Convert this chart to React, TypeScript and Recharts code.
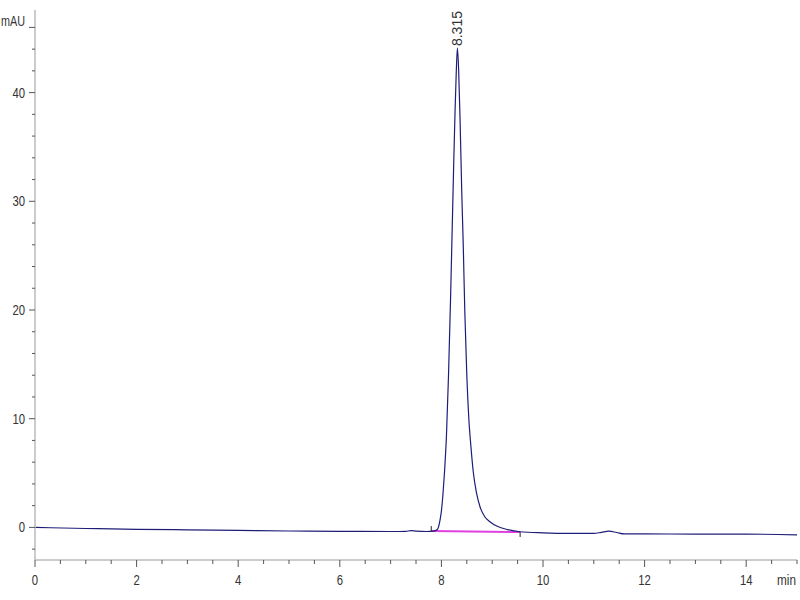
import React from 'react';
import { LineChart, Line, XAxis, YAxis, ReferenceLine, ReferenceDot } from 'recharts';

const times = [
  0, 1, 2, 3, 4, 5, 6, 7, 7.3, 7.4, 7.5, 7.7, 7.85, 7.92, 7.97, 8.0, 8.03, 8.06, 8.1, 8.14,
  8.18, 8.21, 8.24, 8.27, 8.29, 8.315, 8.34, 8.37, 8.4, 8.43, 8.46, 8.5, 8.54, 8.58, 8.63,
  8.69, 8.76, 8.85, 8.96, 9.1, 9.3, 9.55, 10, 10.5, 11, 11.15, 11.3, 11.45, 11.6, 12, 13, 14, 15,
];
const signal = [
  0, -0.1, -0.18, -0.22, -0.28, -0.33, -0.36, -0.38, -0.36, -0.3, -0.34, -0.38, -0.35, -0.2,
  0.6, 1.5, 3.0, 5.0, 8.5, 14, 21, 27, 33, 38.5, 41.5, 44.1, 42, 37, 31, 26, 20, 14, 10, 7.5,
  5, 3.2, 1.9, 1.0, 0.5, 0.1, -0.2, -0.4, -0.5, -0.55, -0.55, -0.45, -0.35, -0.47, -0.6, -0.6,
  -0.62, -0.62, -0.68,
];
const integrationTimes = [7.8, 9.55];
const integrationValues = [-0.33, -0.43];
const peakTime = 8.315;
const peakHeight = 44.1;
const peakLabel = '8.315';
const yTicks = [-2, 0, 2, 4, 6, 8, 10, 12, 14, 16, 18, 20, 22, 24, 26, 28, 30, 32, 34, 36, 38, 40, 42, 44, 46];
const xTicks = [0, 0.5, 1, 1.5, 2, 2.5, 3, 3.5, 4, 4.5, 5, 5.5, 6, 6.5, 7, 7.5, 8, 8.5, 9, 9.5, 10, 10.5, 11, 11.5, 12, 12.5, 13, 13.5, 14, 14.5, 15];
const yUnit = 'mAU';
const xUnit = 'min';

const chromData = times.map((t, i) => ({ t, v: signal[i] }));
const integrationData = integrationTimes.map((t, i) => ({ t, v: integrationValues[i] }));

const FONT = '"Liberation Sans", Arial, sans-serif';
const DIGIT_W = 6.3;

const YTick = (props: any) => {
  const { x, y, payload } = props;
  const v = payload.value;
  const major = v % 10 === 0;
  const isUnit = v === 46;
  const s = String(v);
  return (
    <g>
      <line x1={x - (major || isUnit ? 6 : 3)} x2={x} y1={y} y2={y} stroke="#555" strokeWidth={1} />
      {major && (
        <text
          x={x - 10}
          y={y + 5}
          textAnchor="end"
          fontSize={14}
          fill="#333"
          fontFamily={FONT}
          textLength={s.length * DIGIT_W}
          lengthAdjust="spacingAndGlyphs"
        >
          {s}
        </text>
      )}
      {isUnit && (
        <text
          x={x - 10}
          y={y - 1}
          textAnchor="end"
          fontSize={14}
          fill="#333"
          fontFamily={FONT}
          textLength={24}
          lengthAdjust="spacingAndGlyphs"
        >
          {yUnit}
        </text>
      )}
    </g>
  );
};

const XTick = (props: any) => {
  const { x, y, payload } = props;
  const v = payload.value;
  const major = Number.isInteger(v) && v % 2 === 0;
  const s = String(v);
  return (
    <g>
      <line x1={x} x2={x} y1={y} y2={y + (major ? 7 : 4)} stroke="#555" strokeWidth={1} />
      {major && v < 15 && (
        <text
          x={x}
          y={y + 25}
          textAnchor="middle"
          fontSize={14}
          fill="#333"
          fontFamily={FONT}
          textLength={s.length * DIGIT_W}
          lengthAdjust="spacingAndGlyphs"
        >
          {s}
        </text>
      )}
      {v === 15 && (
        <text
          x={x - 1}
          y={y + 25}
          textAnchor="end"
          fontSize={14}
          fill="#333"
          fontFamily={FONT}
          textLength={19}
          lengthAdjust="spacingAndGlyphs"
        >
          {xUnit}
        </text>
      )}
    </g>
  );
};

export default function App() {
  return (
    <div style={{ position: 'absolute', left: 0, top: 0, background: '#fff' }}>
      <LineChart width={800} height={600} margin={{ top: 10, right: 3, bottom: 10, left: 0 }}>
        <XAxis
          type="number"
          dataKey="t"
          domain={[0, 15]}
          ticks={xTicks}
          interval={0}
          allowDataOverflow
          height={30}
          tickSize={0}
          tickMargin={0}
          tickLine={false}
          axisLine={{ stroke: '#bbb', strokeWidth: 1.5 }}
          tick={<XTick />}
        />
        <YAxis
          type="number"
          dataKey="v"
          domain={[-3, 47.6]}
          ticks={yTicks}
          interval={0}
          allowDataOverflow
          width={35}
          tickSize={0}
          tickMargin={0}
          tickLine={false}
          axisLine={{ stroke: '#bbb', strokeWidth: 1.5 }}
          tick={<YTick />}
        />
        <Line
          data={integrationData}
          dataKey="v"
          type="linear"
          stroke="#e040e0"
          strokeWidth={2}
          dot={false}
          isAnimationActive={false}
        />
        <Line
          data={chromData}
          dataKey="v"
          type="monotone"
          stroke="#1e1e78"
          strokeWidth={1.2}
          dot={false}
          isAnimationActive={false}
        />
        <ReferenceLine
          segment={[
            { x: integrationTimes[0], y: integrationValues[0] },
            { x: integrationTimes[0], y: integrationValues[0] + 0.45 },
          ]}
          stroke="#222"
          strokeWidth={1}
        />
        <ReferenceLine
          segment={[
            { x: integrationTimes[1], y: integrationValues[1] },
            { x: integrationTimes[1], y: integrationValues[1] - 0.45 },
          ]}
          stroke="#222"
          strokeWidth={1}
        />
        <ReferenceDot
          x={peakTime}
          y={peakHeight}
          r={0}
          fill="none"
          stroke="none"
          label={{
            content: (p: any) => {
              const vb = p.viewBox || {};
              const cx = (vb.x ?? 0) + (vb.width ?? 0) / 2;
              const cy = (vb.y ?? 0) + (vb.height ?? 0) / 2;
              return (
                <text
                  transform={`translate(${cx + 5},${cy - 2}) rotate(-90)`}
                  fontSize={14}
                  fill="#333"
                  fontFamily={FONT}
                  textLength={35}
                  lengthAdjust="spacingAndGlyphs"
                >
                  {peakLabel}
                </text>
              );
            },
          }}
        />
      </LineChart>
    </div>
  );
}
